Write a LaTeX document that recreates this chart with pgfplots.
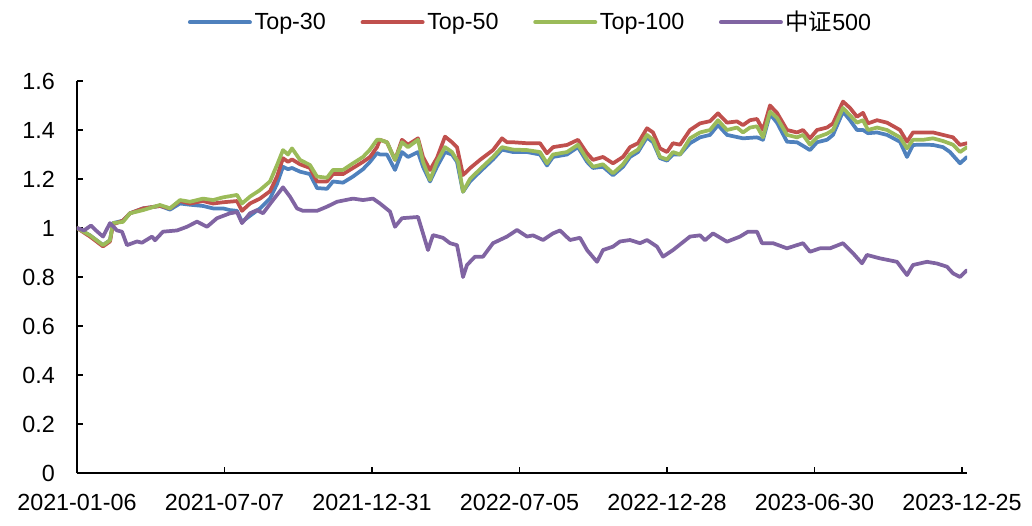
\documentclass[border=0pt]{standalone}
\usepackage{fontspec}
\setmainfont{Liberation Sans}
\newfontfamily\cjk{Noto Sans CJK SC}
\usepackage{pgfplots}
\pgfplotsset{compat=1.18}
\definecolor{cBlue}{HTML}{4F81BD}
\definecolor{cRed}{HTML}{C0504D}
\definecolor{cGreen}{HTML}{9BBB59}
\definecolor{cPurple}{HTML}{8064A2}
\begin{document}
\begin{tikzpicture}
\path[use as bounding box] (-57.75pt,-39pt) rectangle (716.25pt,354.75pt);
\begin{axis}[
  at={(0,0)}, anchor=south west,
  scale only axis, width=667.5pt, height=294pt,
  xmin=0, xmax=890, ymin=0, ymax=1.6,
  axis lines=left, axis line style={-, line width=1.2pt, black},
  tick align=inside, major tick length=4.5pt,
  tick style={line width=1pt, black},
  xtick={0,147.5,295,442.5,590,737.5,885},
  xticklabels={2021-01-06,2021-07-07,2021-12-31,2022-07-05,2022-12-28,2023-06-30,2023-12-25},
  ytick={0,0.2,0.4,0.6,0.8,1,1.2,1.4,1.6},
  yticklabels={0,0.2,0.4,0.6,0.8,1,1.2,1.4,1.6},
  /pgf/number format/assume math mode=true,
  ticklabel style={font=\fontsize{17.5}{19}\selectfont},
  xticklabel style={anchor=north, inner sep=0pt, yshift=-16pt},
  yticklabel style={anchor=east, inner sep=0pt, xshift=-16.5pt},
  legend columns=4,
  legend style={draw=none, fill=none, at={(0.51,1.15)}, anchor=center,
    font=\fontsize{17.5}{19}\selectfont,
    /tikz/every even column/.append style={column sep=24pt}},
  legend image code/.code={\draw[#1, line width=3pt] (0pt,0pt) -- (45pt,0pt);},
  every axis plot/.append style={line width=2.8pt, line join=round, line cap=round},
]
\addplot[cBlue] coordinates {
(0,1.00)(13,0.97)(26,0.93)(33,0.95)(36,1.02)(46,1.03)(53,1.06)(66,1.08)(83,1.09)(93,1.075)(103,1.10)(113,1.095)(126,1.09)(136,1.08)(146,1.08)(153,1.073)(160,1.07)(165,1.025)(173,1.05)(183,1.08)(193,1.12)(200,1.18)(206,1.25)(211,1.24)(215,1.245)(223,1.23)(233,1.22)(240,1.163)(250,1.16)(256,1.19)(266,1.185)(276,1.21)(286,1.24)(293,1.27)(300,1.306)(303,1.30)(310,1.30)(318,1.237)(325,1.31)(331,1.29)(341,1.31)(346,1.25)(353,1.19)(360,1.25)(368,1.31)(375,1.30)(380,1.27)(386,1.148)(393,1.19)(403,1.23)(416,1.28)(425,1.32)(436,1.31)(450,1.31)(463,1.30)(470,1.255)(476,1.29)(490,1.30)(501,1.33)(510,1.27)(516,1.245)(526,1.25)(536,1.215)(546,1.25)(553,1.29)(561,1.31)(570,1.37)(576,1.35)(583,1.285)(590,1.275)(596,1.30)(603,1.30)(613,1.346)(623,1.37)(633,1.38)(641,1.42)(650,1.38)(666,1.366)(680,1.37)(686,1.36)(693,1.465)(700,1.43)(710,1.352)(720,1.35)(733,1.318)(740,1.35)(750,1.36)(756,1.38)(766,1.475)(773,1.44)(780,1.40)(786,1.40)(791,1.387)(800,1.39)(810,1.38)(823,1.352)(830,1.29)(836,1.339)(846,1.34)(856,1.339)(866,1.33)(873,1.31)(883,1.264)(890,1.29)
};
\addlegendentry{Top-30}
\addplot[cRed] coordinates {
(0,1.00)(13,0.965)(26,0.925)(33,0.945)(36,1.015)(46,1.03)(53,1.06)(66,1.08)(83,1.09)(93,1.08)(103,1.11)(113,1.10)(126,1.11)(136,1.10)(146,1.105)(160,1.11)(165,1.07)(173,1.10)(183,1.12)(193,1.15)(200,1.21)(206,1.285)(211,1.27)(215,1.28)(223,1.26)(233,1.245)(240,1.19)(250,1.19)(256,1.22)(266,1.22)(276,1.245)(286,1.27)(293,1.29)(300,1.33)(303,1.36)(310,1.35)(318,1.278)(325,1.36)(331,1.34)(341,1.366)(346,1.29)(353,1.237)(360,1.286)(368,1.373)(375,1.35)(380,1.33)(386,1.216)(393,1.244)(403,1.278)(416,1.318)(425,1.366)(430,1.35)(436,1.35)(450,1.346)(463,1.346)(470,1.305)(476,1.33)(490,1.339)(501,1.36)(510,1.305)(516,1.278)(526,1.29)(536,1.264)(546,1.29)(553,1.33)(561,1.346)(570,1.407)(576,1.39)(583,1.325)(590,1.31)(596,1.346)(603,1.34)(613,1.40)(623,1.427)(633,1.436)(641,1.468)(650,1.43)(660,1.435)(666,1.42)(673,1.44)(680,1.445)(686,1.40)(693,1.50)(700,1.47)(710,1.40)(720,1.39)(726,1.40)(733,1.366)(740,1.40)(750,1.41)(756,1.427)(766,1.516)(773,1.49)(780,1.454)(786,1.47)(791,1.427)(800,1.44)(810,1.43)(823,1.40)(830,1.352)(836,1.39)(846,1.39)(856,1.39)(866,1.38)(876,1.37)(883,1.339)(890,1.346)
};
\addlegendentry{Top-50}
\addplot[cGreen] coordinates {
(0,1.00)(13,0.97)(26,0.93)(33,0.95)(36,1.02)(46,1.025)(53,1.06)(66,1.073)(83,1.094)(93,1.08)(103,1.114)(113,1.107)(126,1.12)(136,1.114)(146,1.125)(160,1.135)(165,1.10)(173,1.128)(183,1.155)(193,1.19)(200,1.257)(206,1.318)(211,1.30)(215,1.325)(223,1.278)(233,1.257)(240,1.21)(250,1.205)(256,1.237)(266,1.237)(276,1.264)(286,1.29)(293,1.32)(300,1.36)(303,1.36)(310,1.35)(318,1.278)(325,1.35)(331,1.33)(341,1.36)(346,1.27)(353,1.196)(360,1.27)(368,1.33)(375,1.31)(381,1.27)(386,1.148)(393,1.20)(403,1.24)(416,1.29)(425,1.33)(436,1.32)(450,1.318)(463,1.31)(470,1.264)(476,1.30)(490,1.31)(501,1.34)(510,1.28)(516,1.25)(526,1.26)(536,1.223)(546,1.26)(553,1.30)(561,1.32)(570,1.38)(576,1.36)(583,1.29)(590,1.28)(596,1.31)(603,1.30)(613,1.366)(623,1.39)(633,1.40)(641,1.44)(650,1.40)(660,1.41)(666,1.39)(673,1.41)(680,1.415)(686,1.37)(693,1.475)(700,1.45)(710,1.38)(720,1.37)(726,1.38)(733,1.34)(740,1.37)(750,1.385)(756,1.40)(766,1.49)(773,1.46)(780,1.43)(786,1.44)(791,1.40)(800,1.41)(810,1.40)(823,1.37)(830,1.325)(836,1.36)(846,1.36)(856,1.366)(866,1.355)(876,1.34)(883,1.31)(890,1.33)
};
\addlegendentry{Top-100}
\addplot[cPurple] coordinates {
(0,1.00)(7,0.99)(14,1.01)(19,0.99)(26,0.965)(33,1.02)(40,0.99)(45,0.985)(50,0.93)(60,0.945)(65,0.94)(75,0.965)(78,0.95)(86,0.985)(100,0.99)(110,1.005)(120,1.026)(130,1.005)(140,1.04)(153,1.06)(160,1.065)(165,1.02)(173,1.06)(180,1.073)(186,1.06)(196,1.114)(206,1.166)(213,1.128)(220,1.08)(226,1.07)(240,1.07)(250,1.087)(260,1.107)(276,1.12)(286,1.114)(296,1.12)(303,1.10)(313,1.067)(318,1.005)(325,1.04)(341,1.045)(346,0.978)(351,0.91)(356,0.971)(366,0.96)(373,0.938)(380,0.93)(383,0.869)(386,0.80)(390,0.849)(398,0.883)(406,0.883)(416,0.938)(430,0.965)(440,0.992)(450,0.965)(456,0.97)(466,0.951)(476,0.978)(483,0.99)(493,0.951)(503,0.96)(510,0.91)(520,0.862)(526,0.91)(536,0.924)(543,0.945)(553,0.951)(563,0.938)(570,0.951)(580,0.924)(586,0.883)(596,0.91)(613,0.965)(623,0.97)(628,0.95)(636,0.978)(650,0.944)(663,0.965)(671,0.985)(680,0.985)(685,0.938)(696,0.938)(710,0.917)(726,0.938)(733,0.903)(743,0.917)(753,0.917)(766,0.938)(776,0.897)(785,0.856)(790,0.89)(803,0.876)(820,0.862)(830,0.808)(836,0.849)(850,0.862)(860,0.855)(870,0.842)(876,0.815)(883,0.80)(890,0.828)
};
\addlegendentry{{\cjk 中证}500}
\end{axis}
\end{tikzpicture}
\end{document}
